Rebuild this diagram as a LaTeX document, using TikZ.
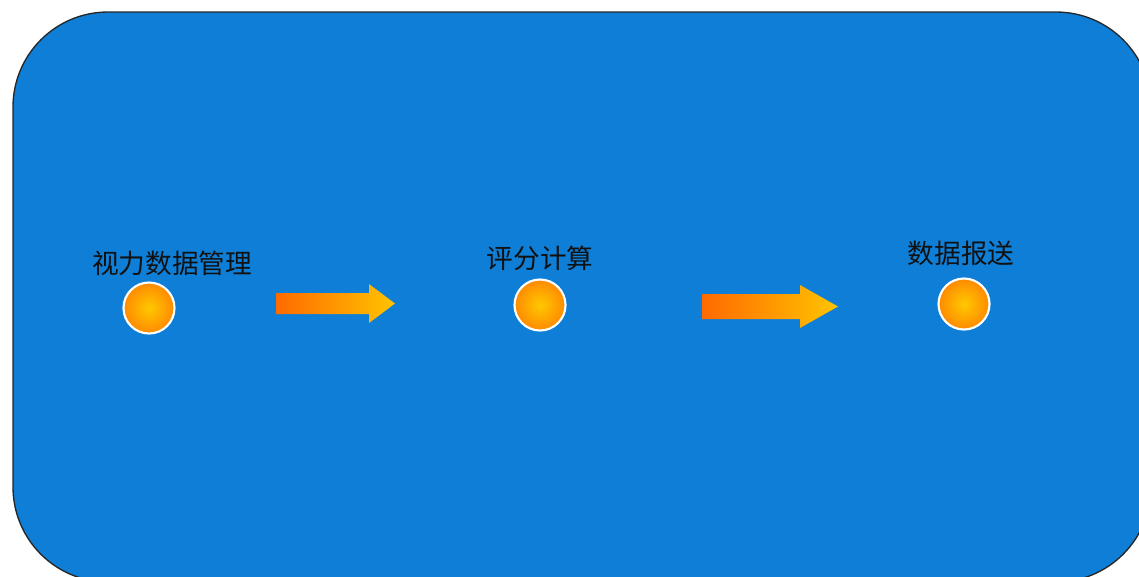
\documentclass[tikz,border=0pt]{standalone}
\usepackage{fontspec}
\newfontfamily\cjk{Noto Sans CJK SC}
\definecolor{bgblue}{HTML}{0E7ED6}
\definecolor{dotin}{HTML}{FFC800}
\definecolor{dotout}{HTML}{FF8A00}
\definecolor{arrL}{HTML}{FF6A00}
\definecolor{arrR}{HTML}{FFC400}
\definecolor{txt}{HTML}{111111}
\begin{document}
\begin{tikzpicture}[x=0.75pt,y=-0.75pt,
  dot/.style={circle,minimum size=51*0.75pt,inner sep=0pt,draw=white,line width=1.6pt,inner color=dotin,outer color=dotout},
  lbl/.style={font=\cjk\fontsize{20pt}{24pt}\selectfont,text=txt,inner sep=0pt,anchor=center},
  bigarrow/.style={left color=arrL,right color=arrR}]
\useasboundingbox (0,0) rectangle (1139,576);
\begin{scope}
\clip (0,0) rectangle (1139,576);
\draw[fill=bgblue,draw=black!85,line width=1pt,rounded corners=95*0.75pt] (13,12) rectangle (1151,582);
\end{scope}
% dots
\node[dot] (d1) at (149,308) {};
\node[dot] (d2) at (540,305) {};
\node[dot] (d3) at (964,304) {};
% labels
\node[lbl] (l1) at (172,263) {视力数据管理};
\node[lbl] (l2) at (540,258) {评分计算};
\node[lbl] (l3) at (961,253) {数据报送};
% arrows
\shade[bigarrow] (276,293) -- (369,293) -- (369,284) -- (395,303.5) -- (369,323) -- (369,314) -- (276,314) -- cycle;
\shade[bigarrow] (702,294) -- (800,294) -- (800,285) -- (838,306.5) -- (800,328) -- (800,319) -- (702,319) -- cycle;
\end{tikzpicture}
\end{document}
